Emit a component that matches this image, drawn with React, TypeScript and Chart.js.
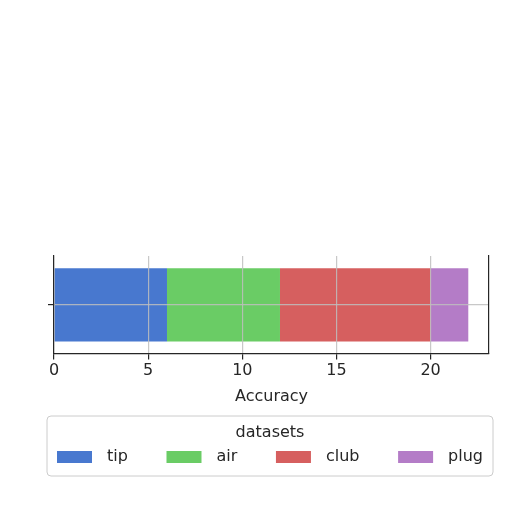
import React, { useEffect, useRef } from 'react';
import { Chart, registerables } from 'chart.js';

Chart.register(...registerables);

const categories = [''];
const seriesNames = ['tip', 'air', 'club', 'plug'];
const tipValues = [6];
const airValues = [6];
const clubValues = [8];
const plugValues = [2];
const xTicks = [0, 5, 10, 15, 20];
const legendTitle = 'datasets';
const colors = ['#4878CF', '#6ACC65', '#D65F5F', '#B47CC7'];

const FONT = "'DejaVu Sans', sans-serif";
const TEXT = '#262626';

// matplotlib-like framed legend under the axes (one row, title on top)
const boxLegend = {
  id: 'boxLegend',
  afterDraw(chart: any) {
    const ctx = chart.ctx;
    const left = 47;
    const right = 493;
    const top = 416;
    const bottom = 476;
    const pad = 10;
    ctx.save();
    ctx.fillStyle = '#ffffff';
    ctx.strokeStyle = '#cccccc';
    ctx.lineWidth = 1;
    ctx.beginPath();
    ctx.roundRect(left, top, right - left, bottom - top, 4);
    ctx.fill();
    ctx.stroke();

    ctx.font = `16px ${FONT}`;
    ctx.fillStyle = TEXT;
    ctx.textBaseline = 'middle';
    ctx.textAlign = 'center';
    ctx.fillText(legendTitle, (left + right) / 2, top + 17);

    const sw = 35;
    const sh = 12;
    const gapText = 15;
    const items = chart.data.datasets.map((ds: any) => ({
      label: ds.label,
      color: ds.backgroundColor,
      w: sw + gapText + ctx.measureText(ds.label).width,
    }));
    const inner = right - left - 2 * pad;
    const sum = items.reduce((a: number, it: any) => a + it.w, 0);
    const gap = (inner - sum) / (items.length - 1);
    let x = left + pad;
    const y = top + 41;
    ctx.textAlign = 'left';
    items.forEach((it: any) => {
      ctx.fillStyle = it.color;
      ctx.fillRect(x, y - sh / 2, sw, sh);
      ctx.fillStyle = TEXT;
      ctx.fillText(it.label, x + sw + gapText, y);
      x += it.w + gap;
    });
    ctx.restore();
  },
};

const App = () => {
  const chartRef = useRef<HTMLCanvasElement | null>(null);
  const chartInstance = useRef<Chart | null>(null);

  useEffect(() => {
    document.body.style.margin = '0';
    if (chartInstance.current) {
      chartInstance.current.destroy();
    }
    const ctx = chartRef.current!.getContext('2d')!;
    const values = [tipValues, airValues, clubValues, plugValues];

    chartInstance.current = new Chart(ctx, {
      type: 'bar',
      data: {
        labels: categories,
        datasets: seriesNames.map((name, i) => ({
          label: name,
          data: values[i],
          backgroundColor: colors[i],
          borderWidth: 0,
          barPercentage: 0.75,
          categoryPercentage: 1,
        })),
      },
      options: {
        indexAxis: 'y',
        animation: false,
        responsive: false,
        devicePixelRatio: 1,
        layout: { padding: { top: 256, left: 48, right: 23, bottom: 106 } },
        plugins: {
          tooltip: { enabled: false },
          legend: { display: false },
        },
        scales: {
          x: {
            stacked: true,
            min: 0,
            max: 23.1,
            afterBuildTicks: (axis: any) => {
              axis.ticks = xTicks.map((v) => ({ value: v }));
            },
            ticks: {
              color: TEXT,
              font: { family: FONT, size: 16 },
              padding: 2,
              maxRotation: 0,
            },
            grid: {
              z: 1,
              color: 'rgba(190,190,190,0.85)',
              lineWidth: 1.2,
              tickLength: 6,
              tickColor: TEXT,
            },
            border: { display: true, color: TEXT, width: 1.2, z: 2 },
            title: {
              display: true,
              text: 'Accuracy',
              color: TEXT,
              font: { family: FONT, size: 16 },
              padding: { top: 4, bottom: 0 },
            },
          },
          y: {
            stacked: true,
            afterFit: (axis: any) => {
              axis.width = 6;
            },
            ticks: { display: true, callback: () => '', padding: 0 },
            grid: {
              z: 1,
              offset: false,
              color: 'rgba(190,190,190,0.85)',
              lineWidth: 1.2,
              tickLength: 6,
              tickColor: TEXT,
            },
            border: { display: true, color: TEXT, width: 1.2, z: 2 },
          },
          y2: {
            position: 'right',
            afterFit: (axis: any) => {
              axis.width = 0;
            },
            ticks: { display: false },
            grid: { display: false },
            border: { display: true, color: TEXT, width: 1.2, z: 2 },
          },
        },
      },
      plugins: [boxLegend],
    } as any);

    return () => {
      if (chartInstance.current) {
        chartInstance.current.destroy();
        chartInstance.current = null;
      }
    };
  }, []);

  return (
    <div style={{ width: 512, height: 512, background: '#ffffff' }}>
      <canvas ref={chartRef} width={512} height={512}></canvas>
    </div>
  );
};

export default App;
